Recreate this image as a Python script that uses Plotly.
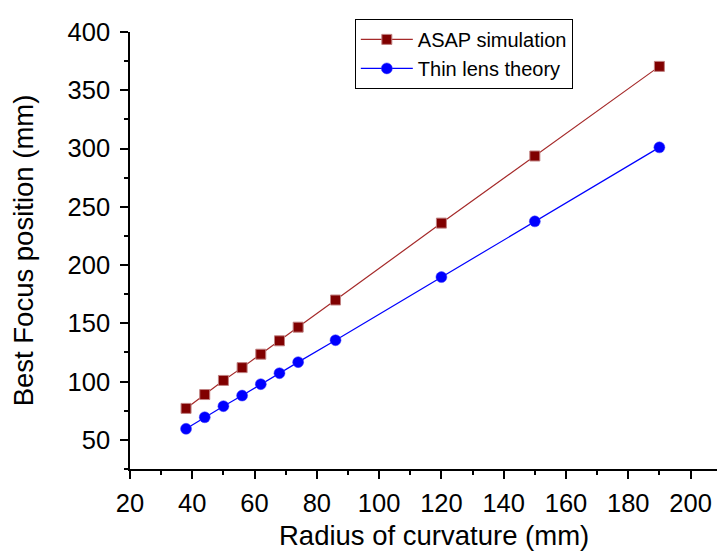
import plotly.graph_objects as go

radius = [38, 44, 50, 56, 62, 68, 74, 86, 120, 150, 190]
asap = [77, 88.9, 101, 112, 123.5, 135, 146.7, 170, 236, 293.6, 370.5]
thin = [59.5, 69.4, 78.9, 88, 97.8, 107.2, 116.7, 135.5, 189.7, 237.5, 301]

fig = go.Figure()
fig.add_trace(go.Scatter(
    x=radius, y=asap, mode="lines+markers", name="ASAP simulation",
    line=dict(color="#a52a2a", width=1.2),
    marker=dict(symbol="square", size=10, color="#800000",
                line=dict(color="#c08080", width=1))))
fig.add_trace(go.Scatter(
    x=radius, y=thin, mode="lines+markers", name="Thin lens theory",
    line=dict(color="#0000ff", width=1.2),
    marker=dict(symbol="circle", size=11, color="#0000ff",
                line=dict(color="#4040ff", width=0.5))))

font = "Arial, Liberation Sans, sans-serif"
fig.update_layout(
    width=717, height=554,
    margin=dict(l=130, r=0, t=32, b=85),
    paper_bgcolor="white", plot_bgcolor="white",
    font=dict(family=font, color="black"),
    showlegend=True,
    legend=dict(x=0.383, y=1.03, xanchor="left", yanchor="top",
                bgcolor="white", bordercolor="black", borderwidth=1,
                font=dict(size=20, family=font), tracegroupgap=0,
                itemwidth=52),
    annotations=[dict(text="Radius of curvature (mm)", xref="paper", yref="paper",
                      x=0.518, y=0, yshift=-49, xanchor="center", yanchor="top",
                      showarrow=False, font=dict(size=27.5, family=font, color="black"))],
)
fig.update_xaxes(
    range=[20, 208.5], tick0=20, dtick=20,
    showgrid=False, zeroline=False,
    showline=True, linecolor="black", linewidth=1.5,
    ticks="outside", ticklen=8, tickwidth=1.5, tickcolor="black",
    tickfont=dict(size=25.5),
    ticklabelstandoff=3,
    minor=dict(dtick=10, ticks="outside", ticklen=4, tickwidth=1.5, tickcolor="black"),
)
fig.update_yaxes(
    range=[25, 400], tick0=50, dtick=50, tickvals=[50, 100, 150, 200, 250, 300, 350, 400],
    showgrid=False, zeroline=False,
    showline=True, linecolor="black", linewidth=1.5,
    ticks="outside", ticklen=8, tickwidth=1.5, tickcolor="black",
    tickfont=dict(size=25.5),
    ticklabelstandoff=5,
    minor=dict(dtick=25, tick0=25, ticks="outside", ticklen=4, tickwidth=1.5, tickcolor="black"),
    title=dict(text="Best Focus position (mm)", font=dict(size=27.5), standoff=26),
)
fig.write_html("out.html")
